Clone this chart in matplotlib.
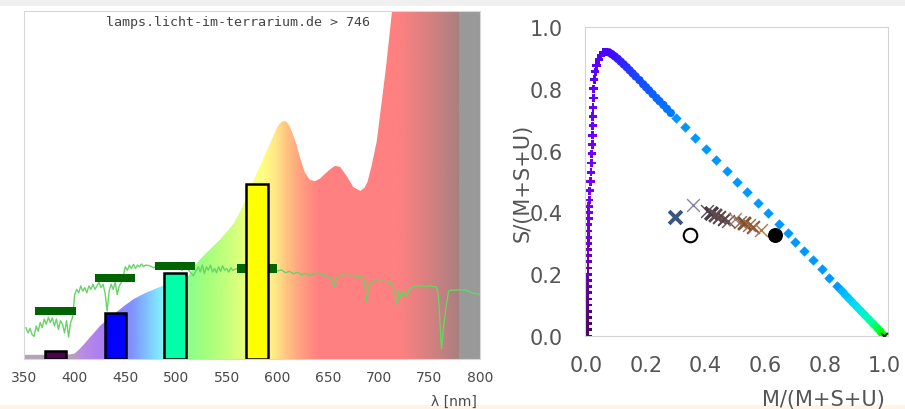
import numpy as np
import matplotlib
matplotlib.use('Agg')
import matplotlib.pyplot as plt
from matplotlib.colors import LinearSegmentedColormap
from matplotlib.patches import Polygon, Rectangle

# --- lamp spectrum (relative, 100 = top of plot) ---
spec_wl = [350, 370, 395, 400, 405, 410, 415, 420, 425, 432, 440, 450, 458, 470, 484,
           497, 505, 511, 515, 519, 524, 530, 537, 544, 550, 557, 563, 570, 576, 581,
           586, 590, 595, 600, 603, 606, 609, 612, 616, 619, 622, 627, 632, 637, 642,
           647, 652, 657, 662, 669, 675, 682, 686, 689, 693, 698, 703, 707, 711, 715,
           720, 800]
spec_val = [1.2, 1.2, 1.3, 1.6, 2.9, 4.5, 6.2, 7.8, 9.5, 11.3, 13.2, 15.5, 17.2, 19.0, 20.7,
            22.0, 22.8, 23.6, 25.0, 27.0, 28.7, 30.5, 32.5, 34.5, 36.5, 39.0, 42.2, 46.5, 50.9, 54.2,
            57.5, 60.0, 63.5, 66.7, 67.8, 68.4, 68.2, 67.0, 64.1, 61.5, 58.3, 53.7, 51.5, 51.1, 51.8,
            53.2, 54.5, 55.5, 55.2, 52.3, 49.4, 48.3, 49.2, 50.9, 55.5, 62.4, 73.9, 83.3, 94.0, 105,
            130, 130]

# --- reference (sunlight) spectrum ---
ref_wl = [352, 354, 356, 358, 360, 362, 364, 366, 368, 370, 372, 374, 376, 378, 380,
          382, 384, 386, 388, 390, 392, 394, 396, 398, 400, 402, 404, 406, 408, 410,
          412, 414, 416, 418, 420, 422, 424, 426, 428, 430, 432, 434, 436, 438, 440,
          442, 444, 446, 448, 450, 452, 454, 456, 458, 460, 462, 464, 466, 468, 470,
          474, 478, 482, 486, 490, 494, 498, 502, 506, 510, 514, 517, 520, 522, 524,
          526, 528, 530, 532, 534, 536, 538, 540, 542, 544, 546, 548, 550, 552, 554,
          556, 560, 565, 570, 575, 580, 585, 590, 595, 600, 604, 608, 612, 616, 620,
          624, 628, 632, 636, 640, 644, 648, 652, 655, 656, 658, 660, 664, 668, 672,
          676, 680, 684, 686, 688, 690, 692, 696, 700, 704, 708, 712, 714, 716, 718,
          720, 722, 724, 726, 728, 730, 734, 738, 742, 746, 750, 754, 757, 759, 761,
          762, 763, 765, 767, 769, 772, 776, 780, 784, 787, 790, 794, 797, 800]
ref_val = [9.0, 7.5, 8.8, 7.0, 6.5, 9.5, 8.0, 10.5, 9.0, 11.5, 10.0, 12.0, 10.5, 11.8, 9.5,
           11.5, 8.5, 11.0, 10.0, 7.5, 11.0, 6.3, 10.5, 12.0, 18.5, 20.0, 19.0, 21.0, 19.5, 20.5,
           19.0, 21.0, 20.0, 21.5, 20.0, 21.0, 22.0, 20.5, 21.5, 19.0, 13.8, 19.5, 21.5, 20.0, 22.0,
           18.5, 21.0, 22.0, 24.0, 26.5, 25.5, 27.0, 26.0, 27.2, 26.0, 27.0, 26.5, 27.3, 26.5, 27.0,
           26.8, 26.2, 27.0, 26.0, 27.2, 26.5, 26.0, 27.0, 25.5, 26.5, 25.0, 23.9, 25.5, 26.5, 25.0,
           27.0, 24.5, 26.5, 25.5, 27.0, 25.0, 26.0, 24.8, 26.5, 25.2, 26.8, 25.5, 26.0, 25.0, 26.2,
           25.5, 26.0, 26.0, 25.8, 26.0, 25.5, 25.8, 25.5, 25.7, 25.3, 25.6, 24.8, 25.2, 24.5, 24.9,
           24.2, 24.6, 24.0, 24.4, 24.7, 24.3, 24.0, 23.5, 22.0, 20.7, 23.0, 23.8, 24.2, 24.0, 24.1,
           23.9, 23.7, 23.5, 22.5, 16.4, 21.0, 22.0, 22.5, 22.3, 22.4, 22.2, 22.0, 21.0, 19.0, 15.8,
           19.5, 17.5, 19.5, 18.5, 18.0, 20.0, 20.8, 21.0, 21.0, 20.8, 21.0, 20.8, 20.7, 18.0, 8.0,
           2.9, 6.0, 11.5, 16.0, 19.5, 19.8, 19.8, 19.9, 19.8, 19.7, 19.2, 18.8, 18.8, 18.5]

# --- receptor bars (lamp) and reference levels (sunlight) ---
bar_center = [381, 440, 499, 580]
bar_height = [2.3, 13.2, 24.7, 50.3]
ref_level = [13.8, 23.3, 26.7, 26.1]
bar_colors = ['#4b0050', '#0000ff', '#00ffa8', '#ffff00']

# --- spectral locus in the M/S plane ---
violet_m = [0.003, 0.003, 0.003, 0.003, 0.003, 0.004, 0.004, 0.004, 0.004, 0.004,
            0.005, 0.005, 0.005, 0.005, 0.005, 0.006, 0.006, 0.006, 0.006, 0.007,
            0.007, 0.008, 0.009, 0.011, 0.013, 0.015, 0.017, 0.018, 0.019, 0.020,
            0.021, 0.021, 0.022, 0.023, 0.024, 0.026, 0.029, 0.034, 0.041, 0.048,
            0.057, 0.066]
violet_s = [0.00, 0.02, 0.04, 0.06, 0.08, 0.10, 0.12, 0.14, 0.16, 0.18,
            0.20, 0.22, 0.24, 0.26, 0.28, 0.30, 0.32, 0.34, 0.36, 0.38,
            0.40, 0.42, 0.44, 0.47, 0.50, 0.53, 0.56, 0.59, 0.62, 0.65,
            0.68, 0.71, 0.74, 0.77, 0.80, 0.83, 0.855, 0.875, 0.895, 0.908,
            0.917, 0.920]
blue_m = [0.075, 0.085, 0.095, 0.105, 0.115, 0.125, 0.135, 0.145, 0.155, 0.165,
          0.178, 0.190, 0.200, 0.210, 0.222, 0.235, 0.245, 0.258, 0.270, 0.283]
blue_s = [0.918, 0.912, 0.905, 0.897, 0.888, 0.879, 0.870, 0.860, 0.850, 0.840,
          0.828, 0.815, 0.805, 0.795, 0.783, 0.770, 0.760, 0.748, 0.735, 0.722]
sky_m = [0.300, 0.330, 0.365, 0.400, 0.435, 0.470, 0.505, 0.540, 0.575, 0.610,
         0.645, 0.675, 0.700, 0.730, 0.760, 0.790, 0.815, 0.840]
sky_s = [0.705, 0.675, 0.640, 0.605, 0.570, 0.535, 0.500, 0.465, 0.430, 0.397,
         0.362, 0.332, 0.305, 0.276, 0.246, 0.216, 0.188, 0.162]
cyan_m = [0.858, 0.872, 0.886, 0.900, 0.914, 0.928, 0.942, 0.956, 0.970, 0.982, 0.992]
cyan_s = [0.145, 0.130, 0.116, 0.102, 0.088, 0.074, 0.060, 0.046, 0.032, 0.020, 0.008]

# --- lamp measurements ---
lamp_m = [0.297, 0.357, 0.405, 0.418, 0.432, 0.445, 0.460, 0.475, 0.500, 0.515, 0.530, 0.545, 0.560, 0.585]
lamp_s = [0.384, 0.423, 0.405, 0.398, 0.392, 0.385, 0.378, 0.372, 0.378, 0.370, 0.365, 0.358, 0.352, 0.342]
lamp_colors = ['#3a5580', '#8a80b0', '#5a4858', '#4a3a48', '#5a4a50', '#604848', '#584040',
               '#605050', '#a08070', '#906050', '#805030', '#a06840', '#905838', '#b07848']
lamp_lw = [2.8, 1.0, 1.0, 2.5, 2.0, 1.5, 1.5, 1.0, 1.0, 1.0, 2.0, 1.0, 1.5, 1.0]
open_pt = (0.347, 0.326)
filled_pt = (0.633, 0.328)

fig = plt.figure(figsize=(9.05, 4.1), dpi=100)
W, H = 905.0, 410.0

# ================= left: spectrum =================
ax = fig.add_axes([24 / W, (H - 360) / H, 456 / W, 348 / H])
ax.set_xlim(350, 800)
ax.set_ylim(0, 100)

grad_nodes = [(350, '#b4a6b6'), (398, '#b4a0bc'), (404, '#bb90dc'), (420, '#b080f0'),
              (440, '#9a80ff'), (455, '#8090ff'), (468, '#80b8ff'), (480, '#80e0ff'),
              (492, '#80fff0'), (505, '#80ffb0'), (515, '#90ff88'), (530, '#a4ff7c'),
              (550, '#c4ff7c'), (570, '#ecff80'), (585, '#ffff80'), (598, '#ffe888'),
              (608, '#ffc880'), (620, '#ffa880'), (632, '#ff9080'), (642, '#ff8080'),
              (720, '#ff8080'), (750, '#d88080'), (780, '#a88080'), (800, '#a88080')]
cmap = LinearSegmentedColormap.from_list('spec', [((w - 350) / 450, c) for w, c in grad_nodes])
grad = np.linspace(0, 1, 900).reshape(1, -1)
img = ax.imshow(grad, extent=[350, 800, 0, 100], aspect='auto', cmap=cmap,
                origin='lower', zorder=1, interpolation='bilinear')
verts = np.column_stack([spec_wl + [800, 350], spec_val + [0, 0]])
clip = Polygon(verts, closed=True, facecolor='none', edgecolor='none')
ax.add_patch(clip)
img.set_clip_path(clip)

ax.axvspan(779.5, 800, color='#999999', zorder=1.5, lw=0)
ax.plot(ref_wl, ref_val, color='#66d466', lw=1.0, zorder=3)
ax.bar(bar_center, [2.5] * 4, width=40, bottom=[v - 1.25 for v in ref_level],
       color='#006400', zorder=4)
ax.bar(bar_center, bar_height, width=21, color=bar_colors, edgecolor='black',
       linewidth=1.8, zorder=5)

ax.text(0.469, 0.971, 'lamps.licht-im-terrarium.de > 746', transform=ax.transAxes,
        ha='center', va='center', fontsize=9.6, family='DejaVu Sans Mono', color='#444444')

ax.set_xticks(range(350, 801, 50))
ax.set_yticks([])
ax.tick_params(axis='x', length=0, pad=8, labelsize=10, labelcolor='#4a4a4a')
for sp in ax.spines.values():
    sp.set_color('#d8d8d8')
ax.set_xlabel('λ [nm]', fontsize=10, color='#4a4a4a', loc='right')
ax.xaxis.set_label_coords(0.993, -0.100)

# ================= right: M/S diagram =================
bx = fig.add_axes([585 / W, (H - 337) / H, 303 / W, 309 / H])
bx.set_xlim(-0.005, 1.012)
bx.set_ylim(0, 1)

n = len(violet_m)
vcols = LinearSegmentedColormap.from_list('v', ['#4a0060', '#6400a8', '#7600e8', '#6a00ff', '#5000ff'])(np.linspace(0, 1, n))
bx.scatter(violet_m, violet_s, marker='P', s=36, c=vcols, linewidths=0, zorder=2)
bcols = LinearSegmentedColormap.from_list('b', ['#4800ff', '#1848ff', '#0078ff'])(np.linspace(0, 1, len(blue_m)))
bx.scatter(blue_m, blue_s, marker='o', s=36, c=bcols, linewidths=0, zorder=2)
bx.scatter(sky_m, sky_s, marker='D', s=28, c='#0098ff', linewidths=0, zorder=2)
ccols = LinearSegmentedColormap.from_list('c', ['#00b4ff', '#00e0f8', '#00ffb0', '#00ff00'])(np.linspace(0, 1, len(cyan_m)))
bx.scatter(cyan_m, cyan_s, marker='D', s=30, c=ccols, linewidths=0, zorder=2)
bx.scatter([1.0], [0.0], marker='x', s=25, c='#333333', linewidths=1.5, zorder=3)

for m, s, c, lw in zip(lamp_m, lamp_s, lamp_colors, lamp_lw):
    bx.scatter(m, s, marker='x', s=85, c=c, linewidths=lw, zorder=4)
bx.scatter(*open_pt, marker='o', s=95, facecolors='white', edgecolors='black', linewidths=1.5, zorder=5)
bx.scatter(*filled_pt, marker='o', s=95, c='black', zorder=5)

bx.set_xticks(np.arange(0, 1.01, 0.2))
bx.set_yticks(np.arange(0, 1.01, 0.2))
bx.set_xticklabels(['0.0', '0.2', '0.4', '0.6', '0.8', '1.0'])
bx.set_yticklabels(['0.0', '0.2', '0.4', '0.6', '0.8', '1.0'])
bx.tick_params(length=0, labelsize=15, labelcolor='#555555')
bx.tick_params(axis='x', pad=14)
bx.tick_params(axis='y', pad=16)
for sp in bx.spines.values():
    sp.set_color('#d4d4d4')
bx.set_ylabel('S/(M+S+U)', fontsize=15, color='#555555')
bx.yaxis.set_label_coords(-0.172, 0.5)
bx.set_xlabel('M/(M+S+U)', fontsize=15, color='#555555', loc='right')
bx.xaxis.set_label_coords(0.99, -0.172)

# page strips of the screenshot (behind the axis labels)
fig.add_artist(Rectangle((0, 1 - 7 / H), 1, 7 / H, transform=fig.transFigure,
                         facecolor='#f0f0f0', edgecolor='none', zorder=-1))
fig.add_artist(Rectangle((0, 0), 1, 4 / H, transform=fig.transFigure,
                         facecolor='#fdf4e4', edgecolor='none', zorder=-1))

fig.savefig('out.png', dpi=100)
